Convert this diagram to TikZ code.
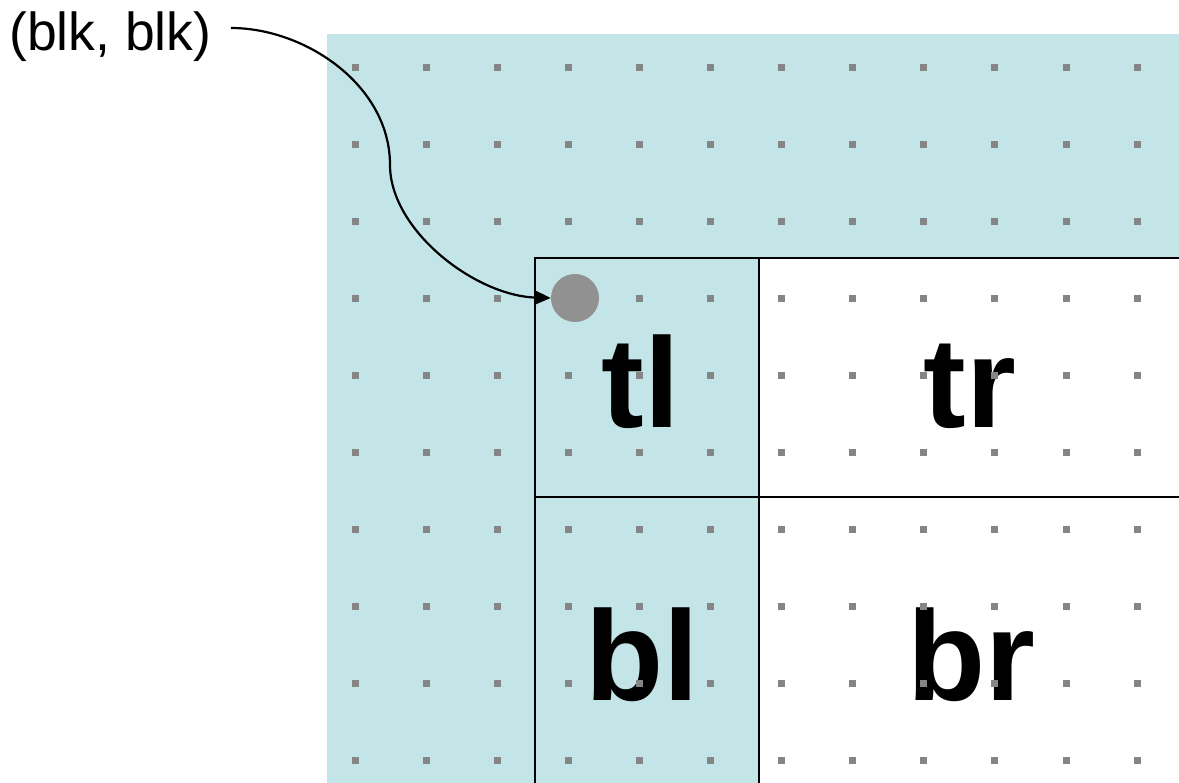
\documentclass[tikz,border=0pt]{standalone}
\usepackage{fontspec}
\setmainfont{Liberation Sans}
\usetikzlibrary{arrows.meta}
\definecolor{paleteal}{RGB}{196,229,232}
\definecolor{dotgray}{RGB}{133,133,133}
\definecolor{circgray}{RGB}{145,145,145}
\tikzset{
  celltext/.style={anchor=base, inner sep=0pt, font=\fontsize{128}{130}\selectfont\bfseries},
  gridline/.style={line width=2pt, black},
  gdot/.style={fill=dotgray},
  pointer/.style={line width=2.2pt, -{Triangle[length=15pt,width=13pt]}},
}
\begin{document}
\begin{tikzpicture}[x=1pt,y=-1pt]
\useasboundingbox (0,0) rectangle (1179,783);
% backgrounds
\fill[paleteal] (327,34) rectangle (1179,783);
\fill[white] (759,258) rectangle (1179,783);
% cell labels
\node[celltext] (tl) at (641,428) {tl};
\node[celltext] (tr) at (970,428) {tr};
\node[celltext] (bl) at (642,700) {bl};
\node[celltext] (br) at (971,700) {br};
% dot grid
\foreach \i in {0,...,11}{
  \foreach \j in {0,...,9}{
    \fill[gdot] ({355+71.1*\i-3.5},{68+76.9*\j-3.5}) rectangle +(7,7);
  }
}
% grid lines
\draw[gridline] (535,783) -- (535,258) -- (1179,258);
\draw[gridline] (759,258) -- (759,783);
\draw[gridline] (535,497) -- (1179,497);
% point and label
\node[circle, fill=circgray, minimum size=48pt, inner sep=0pt] (pt) at (575,298) {};
\node[anchor=base west, inner sep=0pt, font=\fontsize{53.5}{60}\selectfont] (lbl) at (9,51) {(blk, blk)};
\coordinate (s) at (231,28);
\draw[pointer] (s) .. controls (305,28) and (390,85) .. (390,165)
  .. controls (390,230) and (475,296) .. (pt.west);
\end{tikzpicture}
\end{document}
